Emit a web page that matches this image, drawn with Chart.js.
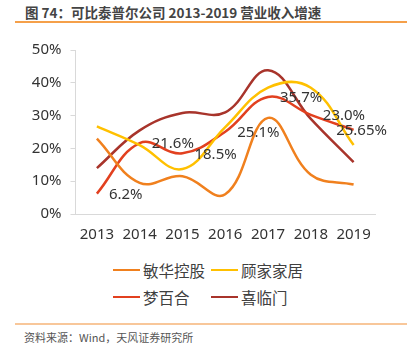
<!DOCTYPE html>
<html>
<head>
<meta charset="utf-8">
<script src="https://cdn.jsdelivr.net/npm/chart.js@4"></script>
<style>
  body { margin: 0; width: 407px; height: 350px; background: #fff; position: relative; overflow: hidden;
         font-family: "Noto Sans CJK SC", "Noto Sans", sans-serif; }
  #title { position: absolute; left: 25px; top: 2px; font-size: 13.5px; font-weight: bold; color: #444; white-space: nowrap; }
  #topLine { position: absolute; left: 15px; top: 21px; width: 392px; height: 2px; background: #F5A04A; }
  #box { position: absolute; left: 0; top: 30px; width: 407px; height: 220px; }
  #legend { position: absolute; left: 113px; top: 256px; }
  .row { height: 27px; display: flex; align-items: center; }
  .item { display: flex; align-items: center; width: 98px; font-size: 15.5px; color: #404040; white-space: nowrap; }
  .swatch { width: 27px; height: 2px; margin-right: 3px; }
  #bottomLine { position: absolute; left: 15px; top: 323px; width: 392px; height: 2px; background: #F8C79A; }
  #source { position: absolute; left: 24px; top: 329px; font-size: 11px; color: #555; white-space: nowrap; }
</style>
</head>
<body>
<div id="title">图 74：可比泰普尔公司 2013-2019 营业收入增速</div>
<div id="topLine"></div>
<div id="box"><canvas id="myChart" width="407" height="220"></canvas></div>
<div id="legend"></div>
<div id="bottomLine"></div>
<div id="source">资料来源：Wind，天风证券研究所</div>
<script>
const years = ['2013', '2014', '2015', '2016', '2017', '2018', '2019']
const seriesNames = ['敏华控股', '顾家家居', '梦百合', '喜临门']
const minhua = [23, 9.5, 11.5, 6, 29.3, 12, 9]
const gujia = [26.7, 21, 13.7, 26.5, 38.5, 38.5, 21]
const mengbaihe = [6.2, 21.6, 18.5, 25.1, 35.7, 30.2, 25.65]
const xilinmen = [14, 25.5, 30.8, 31, 43.8, 29, 15.8]
const mengLabels = ['6.2%', '21.6%', '18.5%', '25.1%', '35.7%', '23.0%', '25.65%']
const yTicks = [0, 10, 20, 30, 40, 50]

const colors = ['#F0801E', '#FFC000', '#E2401F', '#A8342B']
const allData = [minhua, gujia, mengbaihe, xilinmen]

// legend as a 2x2 grid like the original
const legend = document.getElementById('legend')
for (let r = 0; r < 2; r++) {
    let html = '<div class="row">'
    for (let c = 0; c < 2; c++) {
        const i = r * 2 + c
        html += `<div class="item"><span class="swatch" style="background:${colors[i]}"></span>${seriesNames[i]}</div>`
    }
    legend.innerHTML += html + '</div>'
}

const labelPlugin = {
    id: 'mengLabels',
    afterDatasetsDraw(chart) {
        const ctx = chart.ctx
        const meta = chart.getDatasetMeta(2)
        ctx.save()
        ctx.font = '15px "Noto Sans", "Noto Sans CJK SC", sans-serif'
        ctx.fillStyle = '#333'
        ctx.textBaseline = 'middle'
        meta.data.forEach((pt, i) => {
            const txt = mengLabels[i]
            const w = ctx.measureText(txt).width
            const x = Math.min(pt.x + 12, chart.chartArea.right + 12 - w)
            ctx.fillText(txt, x, pt.y + 1)
        })
        ctx.restore()
    }
}

const data = {
    labels: years,
    datasets: allData.map((d, i) => ({
        label: seriesNames[i],
        data: d,
        borderColor: colors[i],
        backgroundColor: colors[i],
        borderWidth: 2.5,
        pointRadius: 0,
        tension: 0.4,
        fill: false
    }))
}

const config = {
    type: 'line',
    data: data,
    options: {
        responsive: false,
        animation: false,
        layout: { padding: { top: 20, right: 32, left: 0, bottom: 0 } },
        plugins: { legend: { display: false }, tooltip: { enabled: false } },
        scales: {
            x: {
                offset: true,
                grid: { display: false, drawTicks: false },
                border: { color: '#d9d9d9', width: 1 },
                ticks: { padding: 12, color: '#333', font: { size: 15, family: '"Noto Sans", sans-serif' } },
                afterFit: s => { s.height = 36 }
            },
            y: {
                min: 0,
                max: 50,
                afterBuildTicks: s => { s.ticks = yTicks.map(v => ({ value: v })) },
                grid: { drawOnChartArea: false, drawTicks: true, tickLength: 5, color: '#d9d9d9' },
                border: { color: '#d9d9d9', width: 1 },
                ticks: {
                    padding: 9,
                    color: '#333',
                    font: { size: 15, family: '"Noto Sans", sans-serif' },
                    callback: v => v + '%'
                },
                afterFit: s => { s.width = 75.5 }
            }
        }
    },
    plugins: [labelPlugin]
}

const chart = new Chart(document.getElementById('myChart'), config)
</script>
</body>
</html>
